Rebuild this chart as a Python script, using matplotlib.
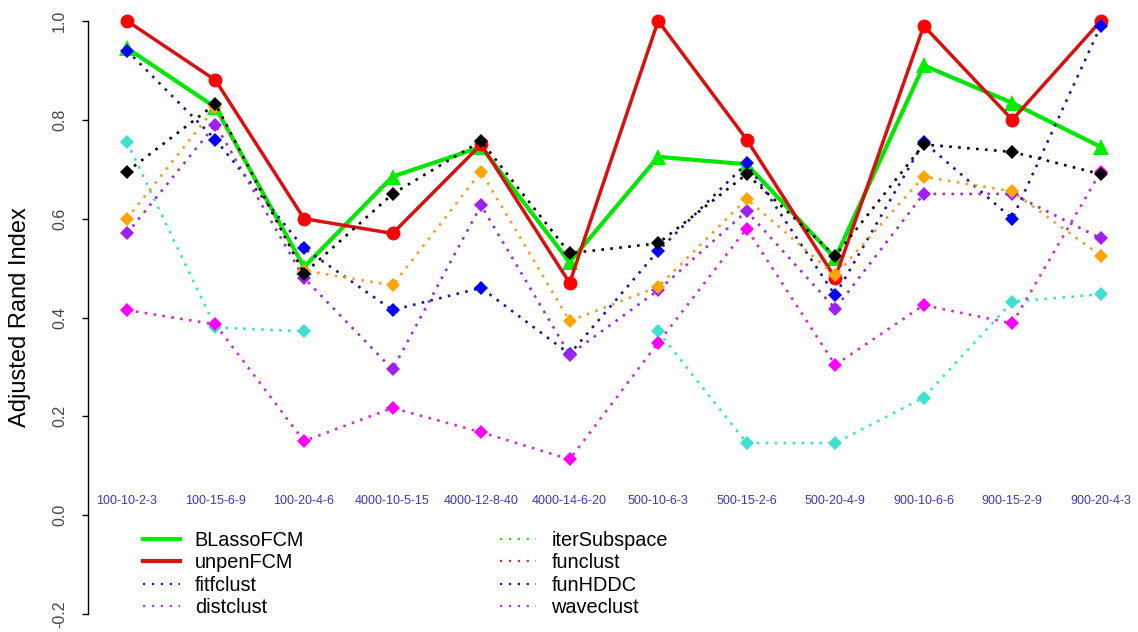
import numpy as np
import matplotlib.pyplot as plt
from matplotlib.lines import Line2D

plt.rcParams['font.family'] = ['Liberation Sans', 'DejaVu Sans']

# simulation settings (n - p - K - q)
settings = ['100-10-2-3', '100-15-6-9', '100-20-4-6', '4000-10-5-15',
            '4000-12-8-40', '4000-14-6-20', '500-10-6-3', '500-15-2-6',
            '500-20-4-9', '900-10-6-6', '900-15-2-9', '900-20-4-3']

# adjusted Rand index per method (nan = method did not run)
blasso_fcm = [0.945, 0.825, 0.502, 0.685, 0.745, 0.512, 0.725, 0.71, 0.52, 0.91, 0.834, 0.745]
unpen_fcm = [1.0, 0.88, 0.60, 0.57, 0.75, 0.47, 1.0, 0.76, 0.48, 0.99, 0.80, 1.0]
fitfclust = [0.94, 0.76, 0.54, 0.415, 0.46, 0.326, 0.535, 0.712, 0.445, 0.755, 0.60, 0.99]
distclust = [0.57, 0.79, 0.48, 0.295, 0.627, 0.325, 0.455, 0.615, 0.418, 0.65, 0.65, 0.56]
iter_subspace = [0.695, 0.832, 0.489, 0.65, 0.757, 0.53, 0.55, 0.69, 0.525, 0.75, 0.735, 0.69]
funclust = [0.60, 0.825, 0.495, 0.465, 0.695, 0.393, 0.462, 0.64, 0.485, 0.685, 0.655, 0.525]
fun_hddc = [0.755, 0.38, 0.372, np.nan, np.nan, np.nan, 0.372, 0.146, 0.146, 0.238, 0.432, 0.447]
waveclust = [0.415, 0.386, 0.15, 0.217, 0.168, 0.113, 0.349, 0.58, 0.304, 0.425, 0.388, 0.695]

legend_names = ['BLassoFCM', 'unpenFCM', 'fitfclust', 'distclust',
                'iterSubspace', 'funclust', 'funHDDC', 'waveclust']

x = np.arange(1, len(settings) + 1)

fig = plt.figure(figsize=(11.38, 6.32), dpi=100)
ax = fig.add_axes([88 / 1138, 8 / 632, 1050 / 1138, 613 / 632])

dots = (0, (1, 2.4))

# solid lines for the two FCM fits
ax.plot(x, blasso_fcm, color='#00e600', lw=3.0, marker='^', ms=11,
        mfc='#00ee00', mew=0)
ax.plot(x, unpen_fcm, color='#d81010', lw=2.5, marker='o', ms=10,
        mfc='#ff0000', mew=0)

# dotted lines for the competing methods
others = [
    (fitfclust, '#1a1a9a', '#0000ff'),
    (distclust, '#9a33d0', '#a020f0'),
    (fun_hddc, '#40e0d0', '#40e0d0'),
    (waveclust, '#d030d0', '#ff00ff'),
    (funclust, '#f0a028', '#ffa500'),
    (iter_subspace, '#000000', '#000000'),
]
for vals, lc, mc in others:
    ax.plot(x, vals, color=lc, lw=1.9, ls=dots, dash_capstyle='butt',
            marker='D', ms=7, mfc=mc, mew=0)

# setting labels written inside the panel
for xi, lab in zip(x, settings):
    ax.text(xi, 0.028, lab, ha='center', va='center', fontsize=9,
            color='#3838c0')

ax.set_xlim(0.56, 12.42)
ax.set_ylim(-0.22, 1.02)
ax.set_xticks([])
yt = np.arange(-0.2, 1.01, 0.2)
ax.set_yticks(yt)
ax.set_yticklabels(['%.1f' % v for v in yt], rotation=90, va='center',
                   fontsize=11.5, color='#444444')
ax.tick_params(axis='y', length=4.5, width=1.0, pad=10.5)
for s in ['top', 'right', 'bottom']:
    ax.spines[s].set_visible(False)
ax.spines['left'].set_bounds(-0.2, 1.0)
ax.spines['left'].set_linewidth(1.0)

fig.text(20 / 1138, 1 - 317 / 632, 'Adjusted Rand Index', rotation=90,
         ha='center', va='center', fontsize=17)

# legend colours as given in the legend call
leg_cols = ['#00ee00', '#dd1111', '#1a1aa0', '#a040e0',
            '#22dd22', '#cc3333', '#1a1aa0', '#a040e0']
handles = []
for i, (name, c) in enumerate(zip(legend_names, leg_cols)):
    if i < 2:
        handles.append(Line2D([], [], color=c, lw=3.0))
    else:
        handles.append(Line2D([], [], color=c, lw=1.6, ls=(0, (1, 3.0)),
                              dash_capstyle='butt'))
ax.legend(handles, legend_names, ncol=2, frameon=False, fontsize=14.3,
          loc='upper left', bbox_to_anchor=(143 / 1138, 1 - 531 / 632),
          bbox_transform=fig.transFigure, borderpad=0, borderaxespad=0,
          handlelength=1.85, handletextpad=0.75, labelspacing=0.17,
          columnspacing=9.85)

fig.savefig('out.png', dpi=100)
